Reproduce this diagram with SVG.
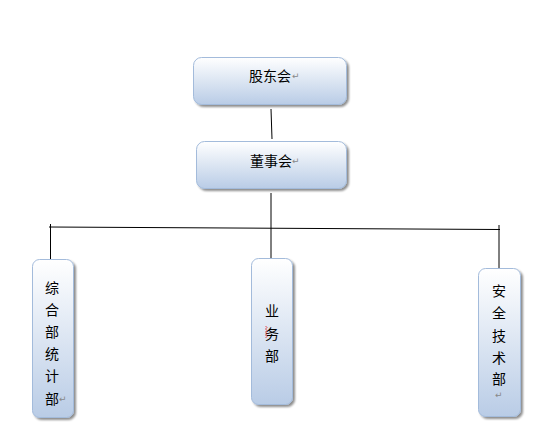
<svg xmlns="http://www.w3.org/2000/svg" width="555" height="432" viewBox="0 0 555 432">
<defs>
<linearGradient id="g" x1="0" y1="0" x2="0" y2="1">
<stop offset="0" stop-color="#ffffff"/>
<stop offset="1" stop-color="#b9cce6"/>
</linearGradient>
<filter id="sh" x="-20%" y="-20%" width="150%" height="150%">
<feGaussianBlur in="SourceAlpha" stdDeviation="1.2"/>
<feOffset dx="2" dy="2" result="b"/>
<feComponentTransfer><feFuncA type="linear" slope="0.45"/></feComponentTransfer>
<feMerge><feMergeNode/><feMergeNode in="SourceGraphic"/></feMerge>
</filter>
</defs>
<style>
.box{fill:url(#g);stroke:#a3bbdb;stroke-width:1;filter:url(#sh)}
.t{font-family:"Noto Sans CJK SC","Liberation Sans",sans-serif;font-size:14px;fill:#000;text-anchor:middle;dominant-baseline:central}
.pm{font-family:"DejaVu Sans",sans-serif;font-size:9px;fill:#888;dominant-baseline:central}
.ln{stroke:#000;stroke-width:1;fill:none}
</style>
<rect width="555" height="432" fill="#fff"/>
<g id="connectors">
<line class="ln" x1="271" y1="109" x2="272" y2="139"/>
<line class="ln" x1="271" y1="193" x2="271" y2="259"/>
<line class="ln" x1="49" y1="227" x2="500" y2="229.5"/>
<line class="ln" x1="50.5" y1="224" x2="50.5" y2="260"/>
<line class="ln" x1="499" y1="225" x2="499" y2="268"/>
</g>
<g id="gudonghui">
<rect class="box" x="193.5" y="57.5" width="153" height="47" rx="8"/>
<text class="t" x="270" y="75">股东会</text>
<text class="pm" x="292" y="76">↵</text>
</g>
<g id="dongshihui">
<rect class="box" x="196.5" y="141.5" width="150" height="47" rx="8"/>
<text class="t" x="271" y="160">董事会</text>
<text class="pm" x="292" y="161">↵</text>
</g>
<g id="zonghebu">
<rect class="box" x="32.5" y="259.5" width="41" height="158" rx="7"/>
<text class="t" x="52" y="287">综</text>
<text class="t" x="52" y="309">合</text>
<text class="t" x="52" y="331">部</text>
<text class="t" x="52" y="353">统</text>
<text class="t" x="52" y="375">计</text>
<text class="t" x="52" y="398">部</text>
<text class="pm" x="59" y="399">↵</text>
</g>
<g id="yewubu">
<rect class="box" x="251.5" y="258.5" width="41" height="146" rx="7"/>
<text class="t" x="272" y="310">业</text>
<text class="t" x="272" y="333">务</text>
<text class="t" x="272" y="355">部</text>
<path d="M265.5 326 l1.5 1.5 l-1.5 1.5 l1.5 1.5 l-1.5 1.5 l1.5 1.5 l-1.5 1.5 l1.5 1.5 l-1.5 1.5" fill="none" stroke="#e02020" stroke-width="0.8"/>
</g>
<g id="anquanjishubu">
<rect class="box" x="478.5" y="268.5" width="42" height="148" rx="7"/>
<text class="t" x="499" y="290">安</text>
<text class="t" x="499" y="312">全</text>
<text class="t" x="499" y="335">技</text>
<text class="t" x="499" y="357">术</text>
<text class="t" x="499" y="378">部</text>
<text class="pm" x="495" y="395" font-size="8">↵</text>
</g>
</svg>
